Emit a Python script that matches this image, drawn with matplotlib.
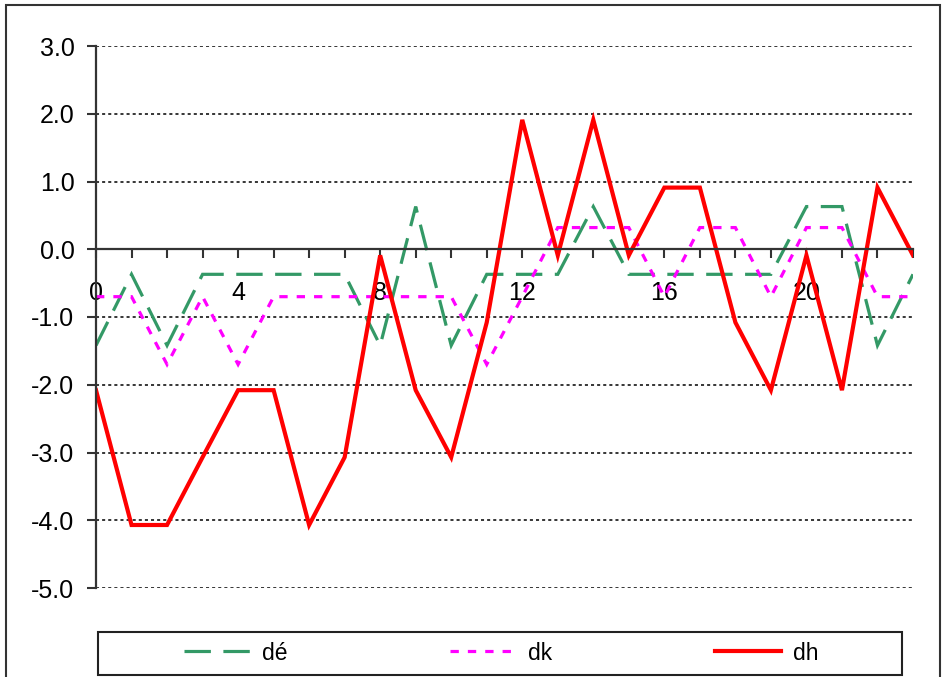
import matplotlib
matplotlib.use('Agg')
import matplotlib.pyplot as plt
from matplotlib.lines import Line2D
from matplotlib.patches import Rectangle

# ---- data ----
x = list(range(24))
de = [-1.42, -0.37, -1.42, -0.37, -0.37, -0.37, -0.37, -0.37, -1.42, 0.63,
      -1.42, -0.37, -0.37, -0.37, 0.63, -0.37, -0.37, -0.37, -0.37, -0.37,
      0.63, 0.63, -1.42, -0.37]
dk = [-0.70, -0.70, -1.70, -0.70, -1.70, -0.70, -0.70, -0.70, -0.70, -0.70,
      -0.70, -1.70, -0.70, 0.32, 0.32, 0.32, -0.70, 0.32, 0.32, -0.70,
      0.32, 0.32, -0.70, -0.70]
dh = [-2.08, -4.07, -4.07, -3.07, -2.08, -2.08, -4.07, -3.07, -0.09, -2.08,
      -3.07, -1.08, 1.91, -0.09, 1.91, -0.09, 0.91, 0.91, -1.08, -2.08,
      -0.09, -2.08, 0.91, -0.09]
series_labels = ['dé', 'dk', 'dh']
yticks = [3, 2, 1, 0, -1, -2, -3, -4, -5]
xtick_labels = [str(v) if v % 4 == 0 and v <= 20 else '' for v in x]

plt.rcParams['font.family'] = ['Liberation Sans', 'DejaVu Sans']
plt.rcParams['axes.unicode_minus'] = False
plt.rcParams['lines.scale_dashes'] = False

fig = plt.figure(figsize=(9.42, 6.77), dpi=100)
ax = fig.add_axes([96 / 942, 1 - 588 / 677, (913 - 96) / 942, (588 - 46) / 677])

l1, = ax.plot(x, de, color='#339966', lw=2.3, dashes=(19, 9),
              dash_capstyle='butt', dash_joinstyle='miter', label=series_labels[0])
l2, = ax.plot(x, dk, color='#FF00FF', lw=2.3, dashes=(6, 6.5),
              dash_capstyle='butt', dash_joinstyle='miter', label=series_labels[1])
l3, = ax.plot(x, dh, color='#FF0000', lw=3, solid_joinstyle='miter',
              label=series_labels[2])

ax.set_xlim(0, 23)
ax.set_ylim(-5, 3)

for s in ['top', 'right']:
    ax.spines[s].set_visible(False)
ax.spines['bottom'].set_position(('data', 0))
for s in ['left', 'bottom']:
    ax.spines[s].set_color('#333333')
    ax.spines[s].set_linewidth(1.6)

ax.set_yticks(yticks)
ax.set_yticklabels([f'{v:.1f}' for v in yticks])
ax.set_xticks(x)
ax.set_xticklabels(xtick_labels)
ax.tick_params(axis='x', direction='out', length=6.5, width=1.5, color='#333333',
               pad=16, labelsize=18, labelcolor='black')
ax.tick_params(axis='y', direction='out', length=6.5, width=1.5, color='#333333',
               pad=9, labelsize=18, labelcolor='black')

ax.yaxis.grid(True, linestyle=(0, (2.2, 2.2)), color='black', lw=1.1)
ax.set_axisbelow(True)

# legend
leg = fig.legend(handles=[l1, l2, l3], loc='center', ncol=3,
                 bbox_to_anchor=(501 / 942, 1 - 653 / 677), frameon=False,
                 fontsize=16.5, handlelength=2.9, handletextpad=0.5,
                 columnspacing=7.1)
fig.add_artist(Rectangle((98 / 942, 1 - 675 / 677), (902 - 98) / 942, (675 - 632) / 677,
                         transform=fig.transFigure, fill=False, edgecolor='#222222',
                         lw=1.5))
# figure border
fig.add_artist(Rectangle((6 / 942, -0.02), (940 - 6) / 942, 1.02 - 5 / 677,
                         transform=fig.transFigure, fill=False, edgecolor='#333333',
                         lw=1.5))

fig.savefig('out.png', dpi=100)
